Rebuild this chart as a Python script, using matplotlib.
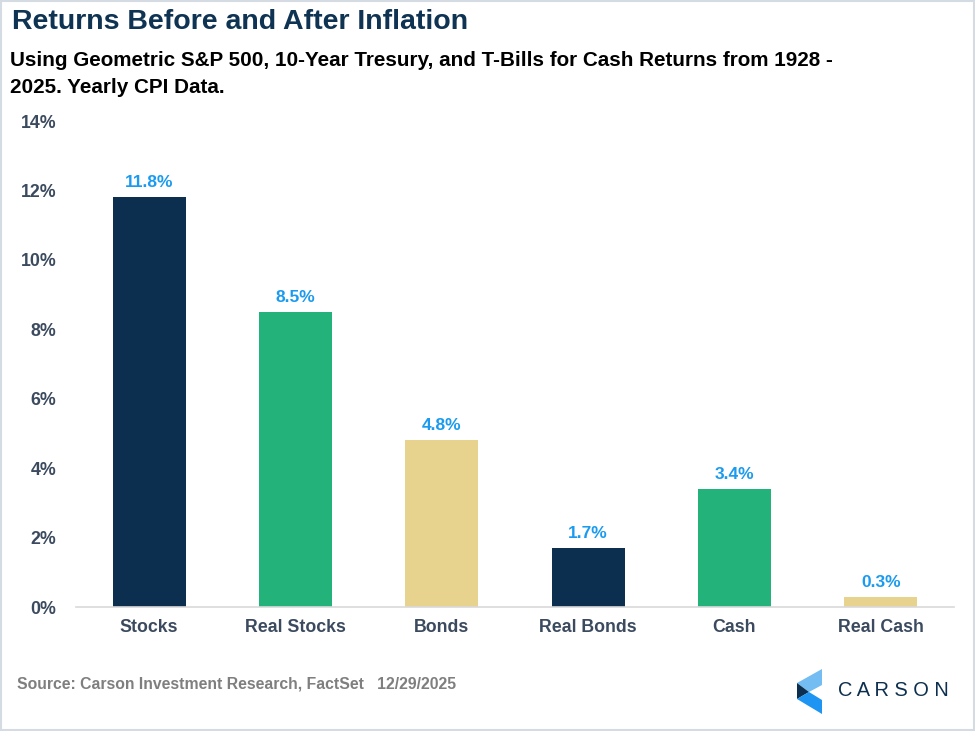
import matplotlib
matplotlib.use("Agg")
import matplotlib.pyplot as plt
from matplotlib.patches import Polygon, Rectangle

categories = ["Stocks", "Real Stocks", "Bonds", "Real Bonds", "Cash", "Real Cash"]
values = [11.8, 8.5, 4.8, 1.7, 3.4, 0.3]
labels = ["11.8%", "8.5%", "4.8%", "1.7%", "3.4%", "0.3%"]
yticks = [0, 2, 4, 6, 8, 10, 12, 14]
ytick_labels = ["0%", "2%", "4%", "6%", "8%", "10%", "12%", "14%"]

NAVY = "#0d2f4f"
GREEN = "#22b27a"
TAN = "#e8d38e"
colors = [NAVY, GREEN, TAN, NAVY, GREEN, TAN]
TXT = "#3b4a5e"
LBL = "#1a9bef"

plt.rcParams['font.family'] = ['Liberation Sans', 'DejaVu Sans']

W, H = 975, 731
fig = plt.figure(figsize=(W/100, H/100), dpi=100)
fig.patch.set_facecolor("white")

def fx(px): return px / W
def fy(py): return 1 - py / H

# axes: left 76, right 954, y0 at 607, y14 at 121
ax = fig.add_axes([fx(76), fy(607), fx(954) - fx(76), fy(121) - fy(607)])
x = list(range(len(categories)))
ax.bar(x, values, width=0.5, color=colors, zorder=2)
ax.set_xlim(-0.5, 5.5)
ax.set_ylim(0, 14)
ax.set_yticks(yticks)
ax.set_yticklabels(ytick_labels)
ax.set_xticks(x)
ax.set_xticklabels(categories)
for s in ["top", "right", "left"]:
    ax.spines[s].set_visible(False)
ax.spines["bottom"].set_color("#d9d9d9")
ax.spines["bottom"].set_linewidth(1.2)
ax.tick_params(axis="both", length=0, labelsize=12.8, labelcolor=TXT)
ax.tick_params(axis="y", pad=14)
ax.tick_params(axis="x", pad=9)
for t in ax.get_xticklabels() + ax.get_yticklabels():
    t.set_fontweight("bold")

for xi, v, lab in zip(x, values, labels):
    ax.annotate(lab, (xi, v), xytext=(0, 5), textcoords="offset points",
                ha="center", va="bottom", color=LBL, fontsize=12.5, fontweight="bold")

fig.text(fx(12), fy(22), "Returns Before and After Inflation", fontsize=20.5,
         fontweight="bold", color="#0f3352", va="center", ha="left")
fig.text(fx(10), fy(74), "Using Geometric S&P 500, 10-Year Tresury, and T-Bills for Cash Returns from 1928 -\n2025. Yearly CPI Data.",
         fontsize=14.9, fontweight="bold", color="black", va="center", ha="left",
         linespacing=1.5)
fig.text(fx(17), fy(684), "Source: Carson Investment Research, FactSet   12/29/2025",
         fontsize=11.3, fontweight="bold", color="#7f7f7f", va="center", ha="left")

# logo
def poly(pts, c):
    fig.patches.append(Polygon([(fx(a), fy(b)) for a, b in pts], closed=True,
                               transform=fig.transFigure, facecolor=c, edgecolor="none"))
poly([(797, 683), (822, 669), (822, 685), (809, 692)], "#74bdf2")
poly([(797, 683), (809, 692), (797, 699)], NAVY)
poly([(797, 699), (809, 692), (822, 700), (822, 714)], "#1e95f2")
fig.text(fx(838), fy(690), "C A R S O N", fontsize=14.4, color=NAVY, va="center", ha="left",
         fontweight="normal")

# border
fig.patches.append(Rectangle((0.001, 0.001), 0.998, 0.998, transform=fig.transFigure,
                             fill=False, edgecolor="#d5dbe3", linewidth=1.5))

fig.savefig("out.png", dpi=100, facecolor="white")
